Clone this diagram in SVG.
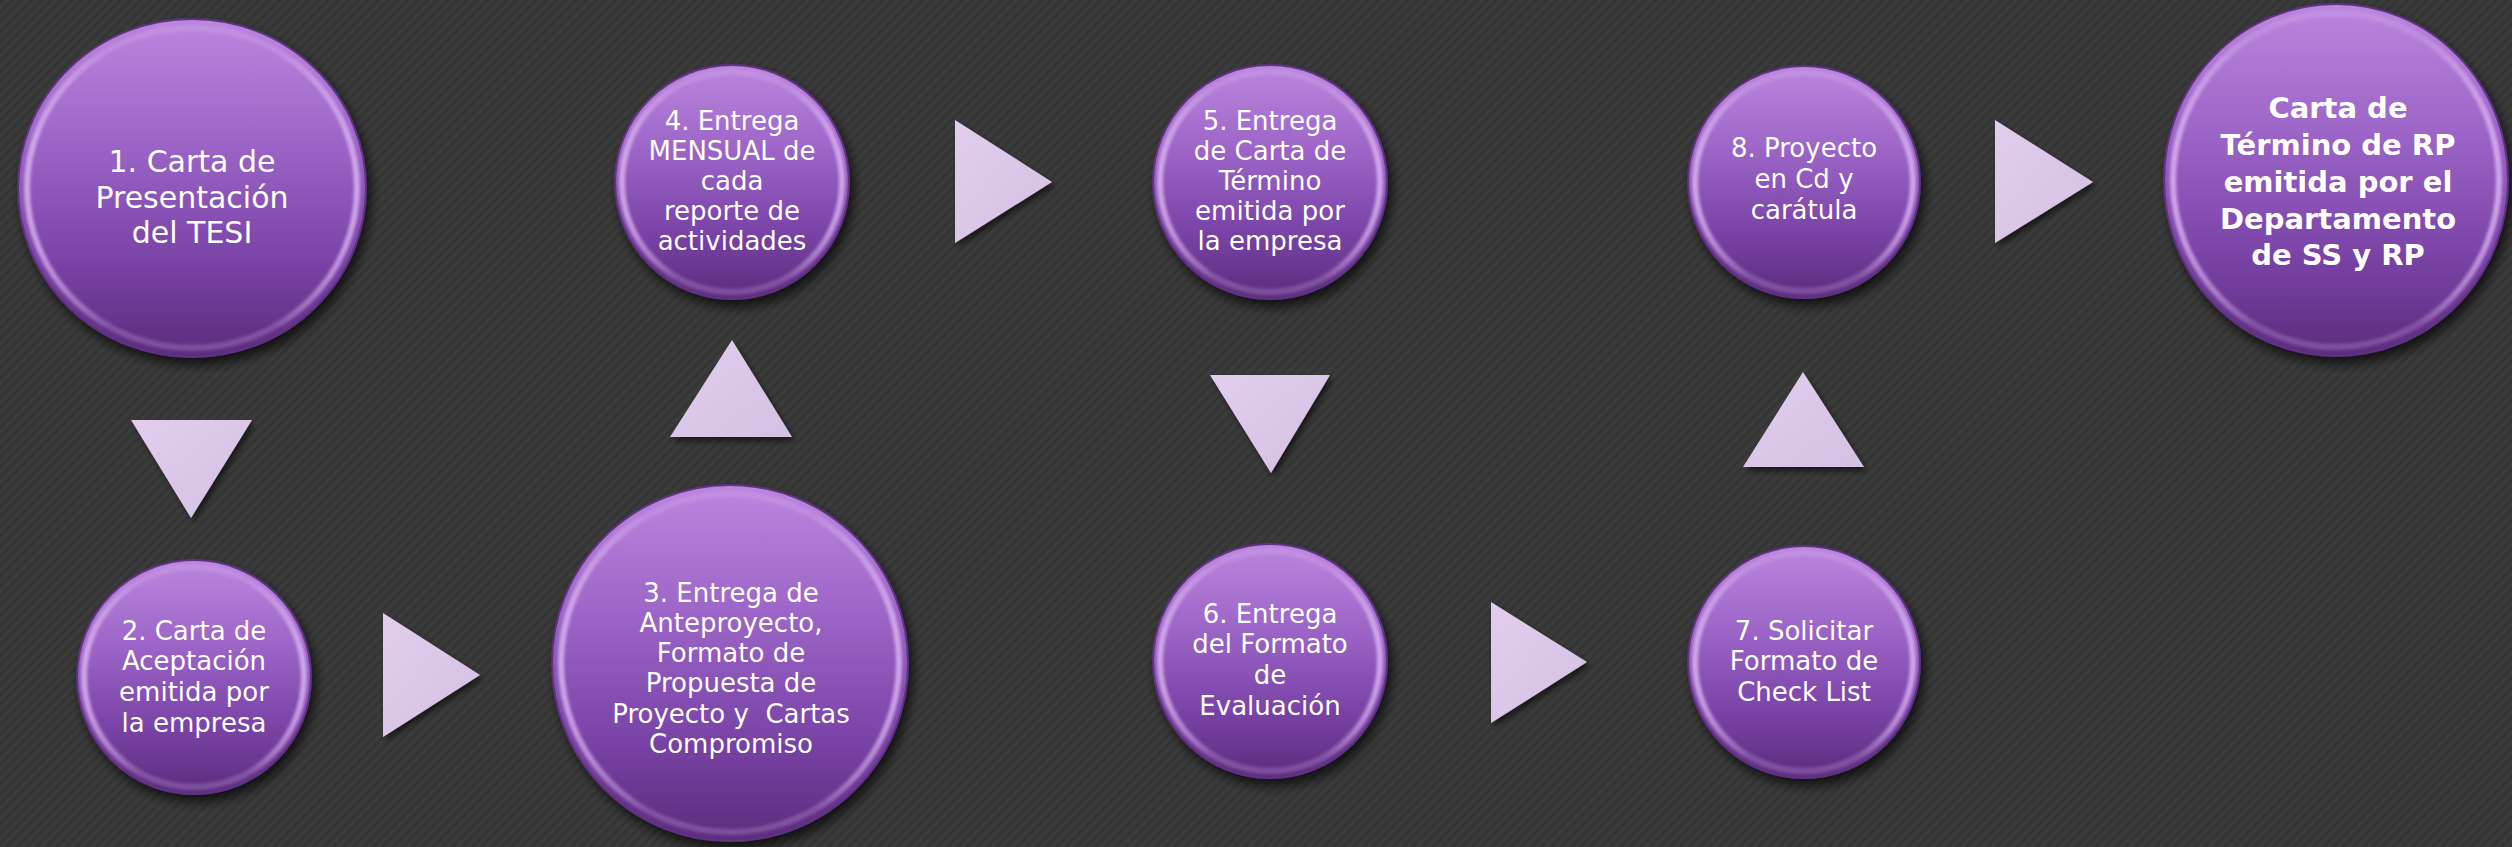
<svg xmlns="http://www.w3.org/2000/svg" width="2512" height="847" viewBox="0 0 2512 847">
  <defs>
    <pattern id="stripes" width="7" height="7" patternUnits="userSpaceOnUse" patternTransform="rotate(45)">
      <rect width="7" height="7" fill="#3b3b3b"/>
      <rect width="3" height="7" fill="#353535"/>
    </pattern>
    <radialGradient id="topShade" cx="0.5" cy="0" r="0.5" gradientTransform="translate(0.5 0) scale(1 1) translate(-0.5 0)">
      <stop offset="0" stop-color="#000" stop-opacity="0.35"/>
      <stop offset="1" stop-color="#000" stop-opacity="0"/>
    </radialGradient>
    <linearGradient id="body" x1="0" y1="0" x2="0" y2="1">
      <stop offset="0" stop-color="#bb86de"/>
      <stop offset="0.35" stop-color="#9d66c8"/>
      <stop offset="0.7" stop-color="#7b44a8"/>
      <stop offset="1" stop-color="#5b2c7d"/>
    </linearGradient>
    <linearGradient id="rim" x1="0" y1="0" x2="1" y2="0">
      <stop offset="0" stop-color="#e0b8f6" stop-opacity="0.8"/>
      <stop offset="0.25" stop-color="#e0b8f6" stop-opacity="0.25"/>
      <stop offset="0.75" stop-color="#e0b8f6" stop-opacity="0.25"/>
      <stop offset="1" stop-color="#e0b8f6" stop-opacity="0.8"/>
    </linearGradient>
    <linearGradient id="tri" x1="0" y1="0" x2="1" y2="1">
      <stop offset="0" stop-color="#e2cdee"/>
      <stop offset="1" stop-color="#d3c1e3"/>
    </linearGradient>
    <filter id="shadow" x="-20%" y="-20%" width="140%" height="140%">
      <feGaussianBlur in="SourceAlpha" stdDeviation="6"/>
      <feOffset dx="4" dy="7" result="b"/>
      <feComponentTransfer><feFuncA type="linear" slope="0.7"/></feComponentTransfer>
      <feMerge><feMergeNode/><feMergeNode in="SourceGraphic"/></feMerge>
    </filter>
    <filter id="soft" x="-10%" y="-10%" width="120%" height="120%">
      <feGaussianBlur stdDeviation="1.6"/>
    </filter>
    <filter id="triShadow" x="-20%" y="-20%" width="150%" height="150%">
      <feGaussianBlur in="SourceAlpha" stdDeviation="3"/>
      <feOffset dx="3" dy="4" result="b"/>
      <feComponentTransfer><feFuncA type="linear" slope="0.6"/></feComponentTransfer>
      <feMerge><feMergeNode/><feMergeNode in="SourceGraphic"/></feMerge>
    </filter>
  </defs>
  <style>
    .body { fill: url(#body); stroke: #5e3182; stroke-width: 2; filter: url(#shadow); }
    .rim { fill: none; stroke: url(#rim); stroke-width: 6; filter: url(#soft); }
    .lbl { font-family: "DejaVu Sans", "Liberation Sans", sans-serif; font-size: 26px; fill: #ffffff; text-anchor: middle; }
    .big { font-size: 30px; }
    .bold { font-weight: bold; font-size: 29px; }
    .arrow { fill: url(#tri); filter: url(#triShadow); }
  </style>

  <rect width="2512" height="847" fill="url(#stripes)"/>
  <ellipse cx="1950" cy="0" rx="420" ry="18" fill="url(#topShade)"/>

  <g id="connectors">
    <polygon class="arrow" points="131,420 252,420 191,518"/>
    <polygon class="arrow" points="383,613 383,737 480,675"/>
    <polygon class="arrow" points="732,340 792,437 670,437"/>
    <polygon class="arrow" points="955,120 955,243 1052,182"/>
    <polygon class="arrow" points="1210,375 1330,375 1271,473"/>
    <polygon class="arrow" points="1491,602 1491,723 1587,662"/>
    <polygon class="arrow" points="1803,372 1864,467 1743,467"/>
    <polygon class="arrow" points="1995,120 1995,243 2093,182"/>
  </g>

  <g id="node-1">
    <ellipse class="body" cx="192" cy="188" rx="174" ry="169"/>
    <ellipse class="rim" cx="192" cy="188" rx="165" ry="160"/>
    <text class="lbl big" x="192" y="172">1. Carta de</text>
    <text class="lbl big" x="192" y="208">Presentación</text>
    <text class="lbl big" x="192" y="243">del TESI</text>
  </g>

  <g id="node-2">
    <circle class="body" cx="194" cy="677" r="117"/>
    <circle class="rim" cx="194" cy="677" r="110"/>
    <text class="lbl" x="194" y="640">2. Carta de</text>
    <text class="lbl" x="194" y="670">Aceptación</text>
    <text class="lbl" x="194" y="701">emitida por</text>
    <text class="lbl" x="194" y="732">la empresa</text>
  </g>

  <g id="node-3">
    <circle class="body" cx="730" cy="663" r="178"/>
    <circle class="rim" cx="730" cy="663" r="169"/>
    <text class="lbl" x="731" y="602">3. Entrega de</text>
    <text class="lbl" x="731" y="632">Anteproyecto,</text>
    <text class="lbl" x="731" y="662">Formato de</text>
    <text class="lbl" x="731" y="692">Propuesta de</text>
    <text class="lbl" x="731" y="723" xml:space="preserve">Proyecto y  Cartas</text>
    <text class="lbl" x="731" y="753">Compromiso</text>
  </g>

  <g id="node-4">
    <circle class="body" cx="732" cy="182" r="117"/>
    <circle class="rim" cx="732" cy="182" r="110"/>
    <text class="lbl" x="732" y="130">4. Entrega</text>
    <text class="lbl" x="732" y="160">MENSUAL de</text>
    <text class="lbl" x="732" y="190">cada</text>
    <text class="lbl" x="732" y="220">reporte de</text>
    <text class="lbl" x="732" y="250">actividades</text>
  </g>

  <g id="node-5">
    <circle class="body" cx="1270" cy="182" r="117"/>
    <circle class="rim" cx="1270" cy="182" r="110"/>
    <text class="lbl" x="1270" y="130">5. Entrega</text>
    <text class="lbl" x="1270" y="160">de Carta de</text>
    <text class="lbl" x="1270" y="190">Término</text>
    <text class="lbl" x="1270" y="220">emitida por</text>
    <text class="lbl" x="1270" y="250">la empresa</text>
  </g>

  <g id="node-6">
    <circle class="body" cx="1270" cy="661" r="117"/>
    <circle class="rim" cx="1270" cy="661" r="110"/>
    <text class="lbl" x="1270" y="623">6. Entrega</text>
    <text class="lbl" x="1270" y="653">del Formato</text>
    <text class="lbl" x="1270" y="684">de</text>
    <text class="lbl" x="1270" y="715">Evaluación</text>
  </g>

  <g id="node-7">
    <circle class="body" cx="1804" cy="662" r="116"/>
    <circle class="rim" cx="1804" cy="662" r="109"/>
    <text class="lbl" x="1804" y="640">7. Solicitar</text>
    <text class="lbl" x="1804" y="670">Formato de</text>
    <text class="lbl" x="1804" y="701">Check List</text>
  </g>

  <g id="node-8">
    <circle class="body" cx="1804" cy="182" r="116"/>
    <circle class="rim" cx="1804" cy="182" r="109"/>
    <text class="lbl" x="1804" y="157">8. Proyecto</text>
    <text class="lbl" x="1804" y="188">en Cd y</text>
    <text class="lbl" x="1804" y="219">carátula</text>
  </g>

  <g id="node-final">
    <ellipse class="body" cx="2336" cy="180" rx="172" ry="176"/>
    <ellipse class="rim" cx="2336" cy="180" rx="163" ry="167"/>
    <text class="lbl bold" x="2338" y="118">Carta de</text>
    <text class="lbl bold" x="2338" y="155">Término de RP</text>
    <text class="lbl bold" x="2338" y="192">emitida por el</text>
    <text class="lbl bold" x="2338" y="229">Departamento</text>
    <text class="lbl bold" x="2338" y="265">de SS y RP</text>
  </g>
</svg>
